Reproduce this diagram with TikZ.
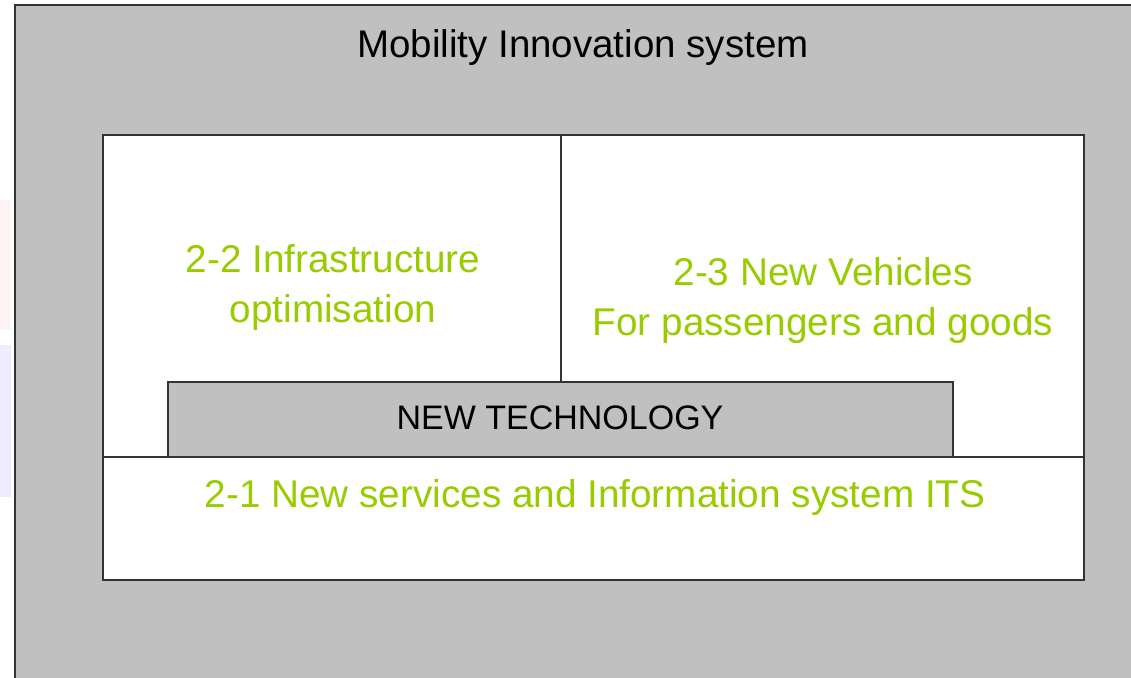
\documentclass[tikz,border=0pt]{standalone}
\usepackage{fontspec}
\setmainfont{Liberation Sans}
\definecolor{panelgray}{HTML}{C0C0C0}
\definecolor{itsgreen}{HTML}{99CC00}
\definecolor{edgegray}{HTML}{333333}
\begin{document}
\begin{tikzpicture}[x=1pt, y=-1pt,
    box/.style={draw=edgegray, line width=1.4pt},
    greentext/.style={text=itsgreen, align=center, font=\fontsize{38.7}{50}\selectfont}]
        \useasboundingbox (0, 0) rectangle (1131, 677);
        \fill[white] (0, 0) rectangle (1131, 677);
        \fill[red!5!white] (0, 200) rectangle (11, 330);
        \fill[blue!7!white] (0, 345) rectangle (11, 497);
        \draw[box, fill = panelgray] (15, 5) rectangle (1145, 690);
        \node (title) at (583, 48) {\fontsize{38.5}{40}\selectfont Mobility Innovation system};
        \draw[box, fill = white] (103, 135) rectangle (1084, 580);
        \draw[box] (103, 457) -- (1084, 457);
        \draw[box] (561, 135) -- (561, 382);
        \draw[box, fill = panelgray] (168, 457) rectangle (953, 382);
        \node (tech) at (560, 418) {\fontsize{34}{40}\selectfont NEW TECHNOLOGY};
        \node[greentext] (infra) at (333, 288) {2-2 Infrastructure\\optimisation};
        \node[greentext] (vehicles) at (823, 300) {2-3 New Vehicles\\For passengers and goods};
        \node[greentext] (its) at (595, 497) {2-1 New services and Information system ITS};
\end{tikzpicture}
\end{document}
